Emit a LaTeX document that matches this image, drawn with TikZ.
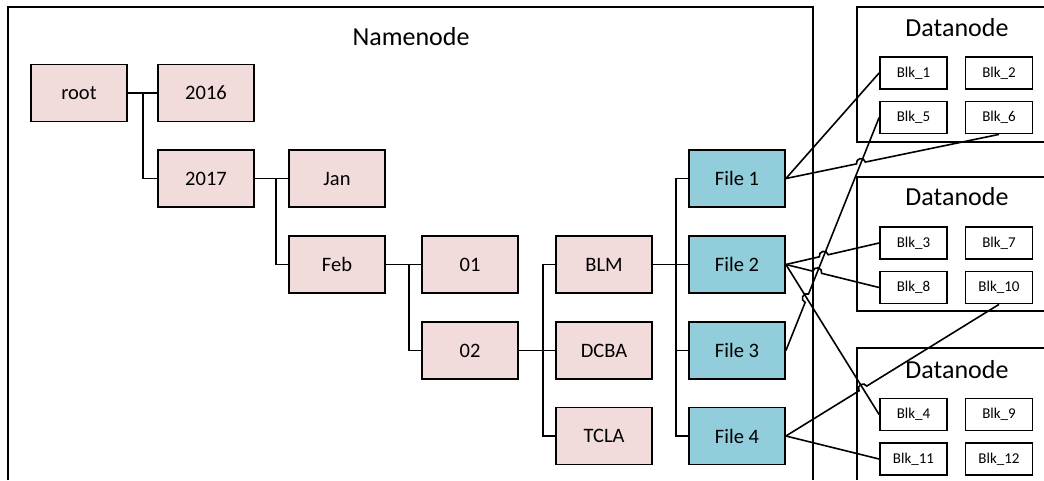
\documentclass[tikz,border=0pt]{standalone}
\usepackage{fontspec}
\setmainfont{Carlito}
\usetikzlibrary{calc,intersections}
\definecolor{pinkfill}{HTML}{F2DCDB}
\definecolor{bluefill}{HTML}{92CDDC}
\tikzset{
  dirbox/.style={draw=black, line width=1.8pt, fill=pinkfill, minimum width=96pt, minimum height=57pt, inner sep=0pt, font=\fontsize{20.5}{24}\selectfont},
  filebox/.style={dirbox, fill=bluefill},
  blkbox/.style={draw=black, line width=1.8pt, fill=white, minimum width=67pt, minimum height=32pt, inner sep=0pt, font=\fontsize{15}{17}\selectfont},
  title/.style={font=\fontsize{26}{30}\selectfont, inner sep=0pt},
  frame/.style={draw=black, line width=1.8pt},
  tree/.style={draw=black, line width=1.8pt},
  conn/.style={draw=black, line width=1.6pt},
}
\begin{document}
\begin{tikzpicture}[x=1pt, y=-1pt]
\useasboundingbox (0,0) rectangle (1044,480);
% containers
\draw[frame] (8,480) -- (8,7) -- (813,7) -- (813,480);
\draw[frame] (1044,7) -- (857,7) -- (857,142) -- (1044,142);
\draw[frame] (1044,177) -- (857,177) -- (857,311) -- (1044,311);
\draw[frame] (1044,348) -- (857,348) -- (857,480);
\node[title] (nn) at (411,37) {Namenode};
\node[title] (dn1) at (957,28) {Datanode};
\node[title] (dn2) at (957,197) {Datanode};
\node[title] (dn3) at (957,370) {Datanode};
% directory boxes
\node[dirbox] (root) at (79,93) {root};
\node[dirbox] (y16) at (206,93) {2016};
\node[dirbox] (y17) at (206,178.5) {2017};
\node[dirbox] (jan) at (337,178.5) {Jan};
\node[dirbox] (feb) at (337,264.5) {Feb};
\node[dirbox] (d01) at (470,264.5) {01};
\node[dirbox] (d02) at (470,350.5) {02};
\node[dirbox] (blm) at (604,264.5) {BLM};
\node[dirbox] (dcba) at (604,350.5) {DCBA};
\node[dirbox] (tcla) at (604,436) {TCLA};
\node[filebox] (f1) at (737,178.5) {File 1};
\node[filebox] (f2) at (737,264.5) {File 2};
\node[filebox] (f3) at (737,350.5) {File 3};
\node[filebox] (f4) at (737,436) {File 4};
% blocks
\node[blkbox] (b1) at (913.5,73) {Blk\_1};
\node[blkbox] (b2) at (999,73) {Blk\_2};
\node[blkbox] (b5) at (913.5,117.5) {Blk\_5};
\node[blkbox] (b6) at (999,117.5) {Blk\_6};
\node[blkbox] (b3) at (913.5,243) {Blk\_3};
\node[blkbox] (b7) at (999,243) {Blk\_7};
\node[blkbox] (b8) at (913.5,287.5) {Blk\_8};
\node[blkbox] (b10) at (999,287.5) {Blk\_10};
\node[blkbox] (b4) at (913.5,414.5) {Blk\_4};
\node[blkbox] (b9) at (999,414.5) {Blk\_9};
\node[blkbox] (b11) at (913.5,459) {Blk\_11};
\node[blkbox] (b12) at (999,459) {Blk\_12};
% tree connectors
\draw[tree] (root.east) -- (y16.west);
\draw[tree] (root.east) -- ++(15,0) |- (y17.west);
\draw[tree] (y17.east) -- (jan.west);
\draw[tree] (y17.east) -- ++(21,0) |- (feb.west);
\draw[tree] (feb.east) -- (d01.west);
\draw[tree] (feb.east) -- ++(23,0) |- (d02.west);
\draw[tree] (d02.east) -- (dcba.west);
\draw[tree] (d02.east) -- ++(24,0) |- (blm.west);
\draw[tree] (d02.east) -- ++(24,0) |- (tcla.west);
\draw[tree] (blm.east) -- (f2.west);
\draw[tree] (blm.east) -- ++(23,0) |- (f1.west);
\draw[tree] (blm.east) -- ++(23,0) |- (f3.west);
\draw[tree] (blm.east) -- ++(23,0) |- (f4.west);
% block connectors (reference paths for crossings)
\path[name path=p24] (f2.east) -- (b4.west);
\path[name path=p35] (f3.east) -- (b5.west);
\path[name path=p16] (f1.east) -- (b6.south);
\path[name path=p23] (f2.east) -- (b3.west);
\path[name path=p28] (f2.east) -- (b8.west);
\path[name path=p410] (f4.east) -- (b10.south);
\path[name intersections={of=p35 and p16, by=xa}];
\path[name intersections={of=p35 and p23, by=xb}];
\path[name intersections={of=p35 and p28, by=xc}];
\path[name intersections={of=p35 and p24, by=xd}];
\path[name intersections={of=p24 and p410, by=xe}];
\draw[conn] (f1.east) -- (b1.west);
\draw[conn] (f4.east) -- (b11.west);
\draw[conn] (f2.east) -- (b4.west);
\draw[conn] let \p1=($(b5.west)-(f3.east)$), \n1={atan2(\y1,\x1)} in
  (f3.east) -- ($(xd)!4.5pt!(f3.east)$) arc[start angle=\n1+180, end angle=\n1, radius=4.5pt] -- (b5.west);
\draw[conn] let \p1=($(b6.south)-(f1.east)$), \n1={atan2(\y1,\x1)} in
  (f1.east) -- ($(xa)!4.5pt!(f1.east)$) arc[start angle=\n1+180, end angle=\n1, radius=4.5pt] -- (b6.south);
\draw[conn] let \p1=($(b3.west)-(f2.east)$), \n1={atan2(\y1,\x1)} in
  (f2.east) -- ($(xb)!4.5pt!(f2.east)$) arc[start angle=\n1+180, end angle=\n1, radius=4.5pt] -- (b3.west);
\draw[conn] let \p1=($(b8.west)-(f2.east)$), \n1={atan2(\y1,\x1)} in
  (f2.east) -- ($(xc)!4.5pt!(f2.east)$) arc[start angle=\n1+180, end angle=\n1, radius=4.5pt] -- (b8.west);
\draw[conn] let \p1=($(b10.south)-(f4.east)$), \n1={atan2(\y1,\x1)} in
  (f4.east) -- ($(xe)!4.5pt!(f4.east)$) arc[start angle=\n1+180, end angle=\n1, radius=4.5pt] -- (b10.south);
\end{tikzpicture}
\end{document}
